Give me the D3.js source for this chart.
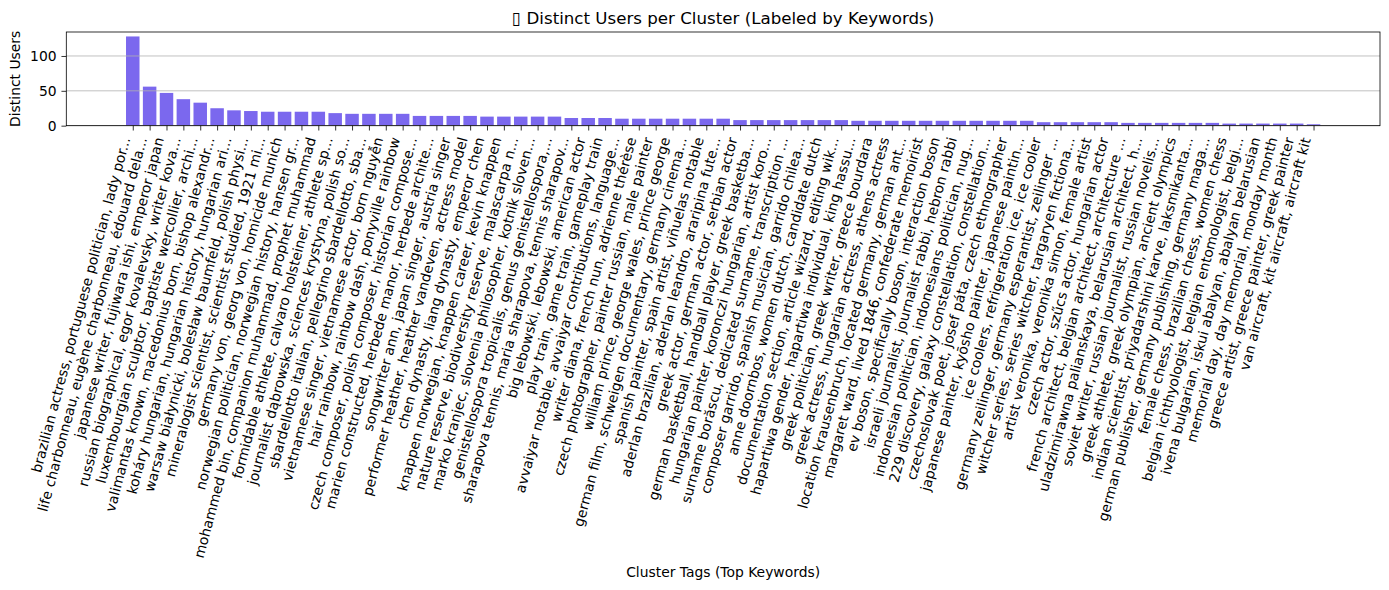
<!DOCTYPE html>
<html><head><meta charset="utf-8">
<script src="https://cdn.jsdelivr.net/npm/d3@7"></script>
<style>
body{margin:0;background:#fff}
svg{display:block}
text{font-family:"DejaVu Sans",sans-serif;fill:#000}
</style>
</head><body><svg id="chart" width="1389" height="590"></svg>
<script>
const clusterLabels = [
"brazilian actress, portuguese politician, lady por...",
"life charbonneau, eugène charbonneau, édouard dela...",
"japanese writer, fujiwara ishi, emperor japan",
"russian biographical, egor kovalevsky, writer kova...",
"luxembourgian sculptor, baptiste wercollier, archi...",
"valimantas known, macedonius born, bishop alexandr...",
"koháry hungarian, hungarian history, hungarian ari...",
"warsaw białynicki, bolesław baumfeld, polish physi...",
"mineralogist scientist, scientist studied, 1921 mi...",
"germany von, georg von, homicide munich",
"norwegian politician, norwegian history, hansen gr...",
"mohammed bin, companion muhammad, prophet muhammad",
"formidable athlete, calvaro holsteiner, athlete sp...",
"journalist dąbrowska, sciences krystyna, polish so...",
"sbardellotto italian, pellegrino sbardellotto, sba...",
"vietnamese singer, vietnamese actor, born nguyễn",
"hair rainbow, rainbow dash, ponyville rainbow",
"czech composer, polish composer, historian compose...",
"marien constructed, herbede manor, herbede archite...",
"songwriter ann, japan singer, austria singer",
"performer heather, heather vandeven, actress model",
"chen dynasty, liang dynasty, emperor chen",
"knappen norwegian, knappen career, kevin knappen",
"nature reserve, biodiversity reserve, malascarpa n...",
"marko kranjec, slovenia philosopher, kotnik sloven...",
"genistellospora tropicalis, genus genistellospora,...",
"sharapova tennis, maria sharapova, tennis sharapov...",
"big lebowski, lebowski, american actor",
"play train, game train, gameplay train",
"avvaiyar notable, avvaiyar contributions, language...",
"writer diana, french nun, adrienne thérèse",
"czech photographer, painter russian, male painter",
"william prince, george wales, prince george",
"german film, schweigen documentary, germany cinema...",
"spanish painter, spain artist, viñuelas notable",
"aderlan brazilian, aderlan leandro, araripina fute...",
"greek actor, german actor, serbian actor",
"german basketball, handball player, greek basketba...",
"hungarian painter, koronczi hungarian, artist koro...",
"surname borăscu, dedicated surname, transcription ...",
"composer garrido, spanish musician, garrido chilea...",
"anne doornbos, women dutch, candidate dutch",
"documentation section, article wizard, editing wik...",
"hapartiwa gender, hapartiwa individual, king hassu...",
"greek politician, greek writer, greece bourdara",
"greek actress, hungarian actress, athens actress",
"location krausenbruch, located germany, german ant...",
"margaret ward, lived 1846, confederate memoirist",
"ev boson, specifically boson, interaction boson",
"israeli journalist, journalist rabbi, hebron rabbi",
"indonesian politician, indonesians politician, nug...",
"229 discovery, galaxy constellation, constellation...",
"czechoslovak poet, josef páta, czech ethnographer",
"japanese painter, kyōsho painter, japanese paintin...",
"ice coolers, refrigeration ice, ice cooler",
"germany zeilinger, germany esperantist, zeilinger ...",
"witcher series, series witcher, targaryen fictiona...",
"artist veronika, veronika simon, female artist",
"czech actor, szűcs actor, hungarian actor",
"french architect, belgian architect, architecture ...",
"uladzimirawna palianskaya, belarusian architect, h...",
"soviet writer, russian journalist, russian novelis...",
"greek athlete, greek olympian, ancient olympics",
"indian scientist, priyadarshini karve, laksmikanta...",
"german publisher, germany publishing, germany maga...",
"female chess, brazilian chess, women chess",
"belgian ichthyologist, belgian entomologist, belgi...",
"ivena bulgarian, iskui abalyan, abalyan belarusian",
"memorial day, day memorial, monday month",
"greece artist, greece painter, greek painter",
"van aircraft, kit aircraft, aircraft kit"
];
const distinctUsers = [
128, 56, 47, 38, 33, 25, 22, 21, 20, 20,
20, 20, 18, 17, 17, 17, 17, 14, 14, 14,
14, 13, 13, 13, 13, 13, 11, 11, 11, 10,
10, 10, 10, 10, 10, 10, 8, 8, 8, 8,
8, 8, 8, 7, 7, 7, 7, 7, 7, 7,
7, 7, 7, 7, 5, 5, 5, 5, 5, 4,
4, 4, 4, 4, 4, 3, 3, 3, 3, 3,
2
];
const yTickValues = [0, 50, 100];
const chartTitle = "\u25AF Distinct Users per Cluster (Labeled by Keywords)";
const xTitle = "Cluster Tags (Top Keywords)";
const yTitle = "Distinct Users";

const svg = d3.select("#chart");
const L = 66.3, R = 1380, T = 32, B = 125.67;
const n = distinctUsers.length;
const pad = 0.05 * (n - 1 + 0.8);
const x = d3.scaleLinear().domain([-0.4 - pad, n - 1 + 0.4 + pad]).range([L, R]);
const y = d3.scaleLinear().domain([0, d3.max(distinctUsers) * 1.05]).range([B, T]);
const pt = 100/72;
const fs = 10 * pt;

// bars
svg.append("g").selectAll("rect").data(distinctUsers).join("rect")
  .attr("x", (d, i) => x(i - 0.4))
  .attr("width", (d, i) => x(i + 0.4) - x(i - 0.4))
  .attr("y", d => y(d))
  .attr("height", d => B - y(d))
  .attr("fill", "#7B68EE");

// grid
svg.append("g").selectAll("line").data(yTickValues).join("line")
  .attr("x1", L).attr("x2", R)
  .attr("y1", d => y(d)).attr("y2", d => y(d))
  .attr("stroke", "#b0b0b0").attr("stroke-width", 0.8);

// y axis
const ya = svg.append("g").attr("transform", `translate(${L},0)`)
  .call(d3.axisLeft(y).tickValues(yTickValues).tickSize(3.5*pt).tickPadding(3.5*pt).tickSizeOuter(0));
ya.select(".domain").remove();
ya.selectAll("line").attr("stroke", "#000").attr("stroke-width", 0.8);
ya.selectAll("text").attr("font-size", fs).attr("font-family", "DejaVu Sans");

// x axis
const xa = svg.append("g").attr("transform", `translate(0,${B})`)
  .call(d3.axisBottom(x).tickValues(d3.range(n)).tickFormat(i => clusterLabels[i]).tickSize(3.5*pt).tickSizeOuter(0));
xa.select(".domain").remove();
xa.selectAll("line").attr("stroke", "#000").attr("stroke-width", 0.8);
const a = -75 * Math.PI / 180, ca = Math.cos(a), sa = Math.sin(a);
xa.selectAll(".tick text").each(function(i) {
  const t = d3.select(this);
  t.attr("y", null).attr("dy", null).attr("x", 0)
   .attr("text-anchor", "start").attr("font-size", fs).attr("font-family", "DejaVu Sans")
   .attr("transform", "rotate(-75)");
  const bb = this.getBBox();
  const pts = [[bb.x, bb.y], [bb.x + bb.width, bb.y], [bb.x, bb.y + bb.height], [bb.x + bb.width, bb.y + bb.height]]
    .map(([px, py]) => [px * ca - py * sa, px * sa + py * ca]);
  const maxX = d3.max(pts, p => p[0]);
  const minY = d3.min(pts, p => p[1]);
  const tx = 0 - maxX, ty = 3.5*pt + 3.5*pt - minY;
  t.attr("transform", `translate(${tx},${ty}) rotate(-75)`);
});

// spines
svg.append("rect").attr("x", L).attr("y", T).attr("width", R - L).attr("height", B - T)
  .attr("fill", "none").attr("stroke", "#000").attr("stroke-width", 0.8);

// titles
svg.append("text").attr("x", (L + R) / 2).attr("y", T - 6*pt)
  .attr("text-anchor", "middle").attr("font-size", 12*pt).text(chartTitle);
svg.append("text").attr("x", (L + R) / 2).attr("y", 577)
  .attr("text-anchor", "middle").attr("font-size", fs).text(xTitle);
svg.append("text").attr("transform", `translate(20,${(T + B) / 2}) rotate(-90)`)
  .attr("text-anchor", "middle").attr("font-size", fs).text(yTitle);
</script>
</body></html>
